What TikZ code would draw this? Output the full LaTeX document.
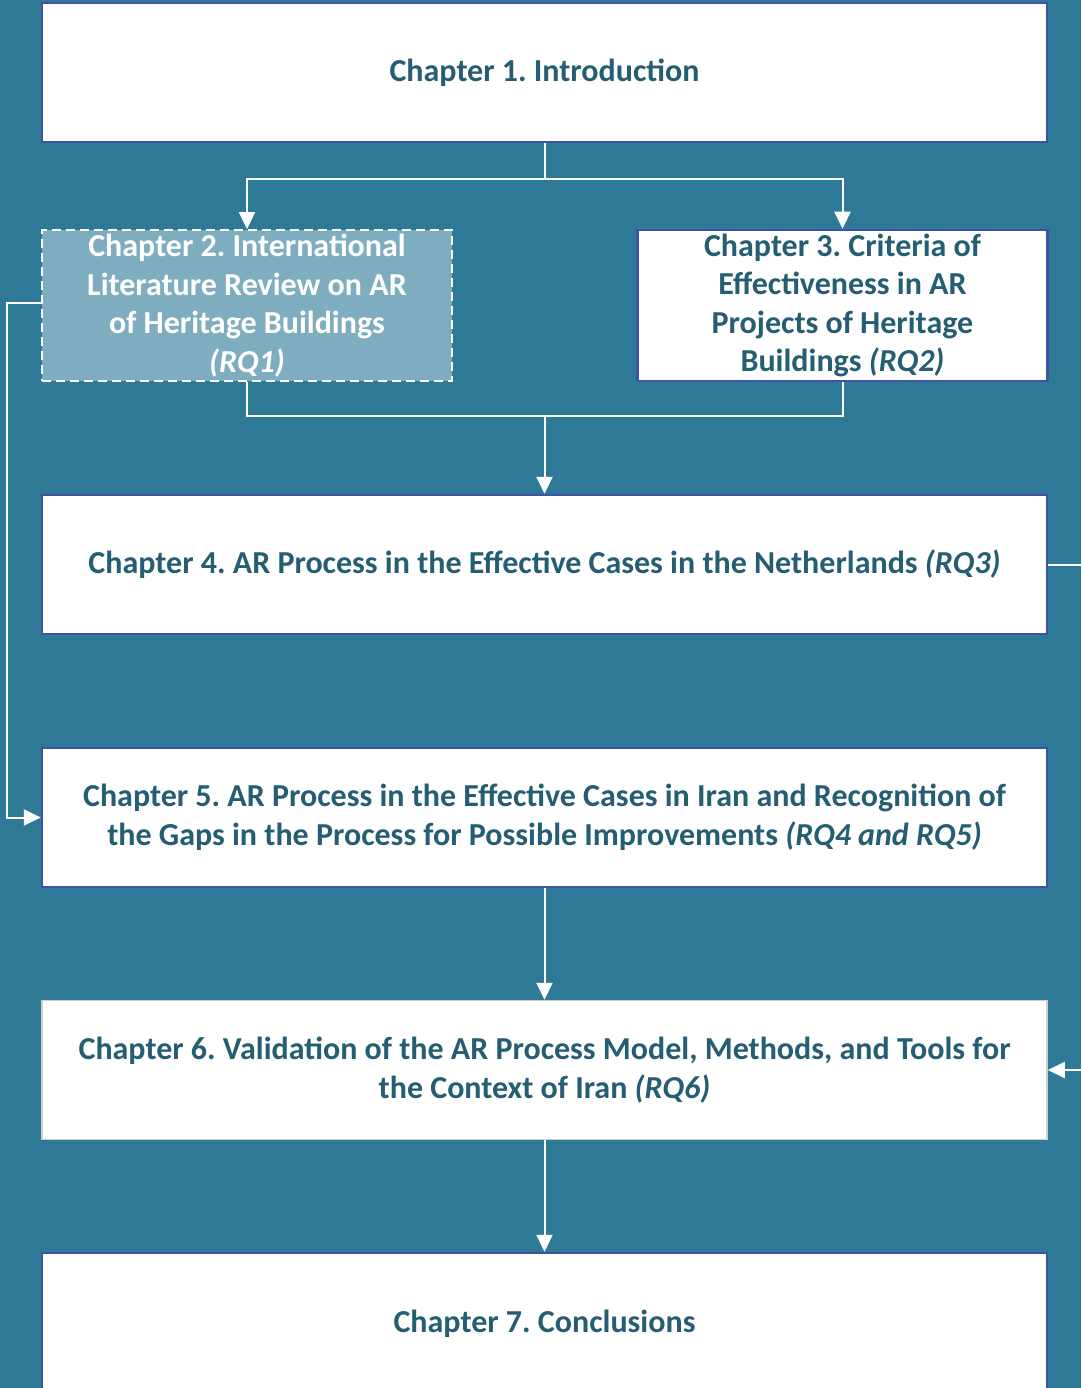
\documentclass[tikz,border=0pt]{standalone}
\usepackage{fontspec}
\setmainfont{Carlito}
\usepackage{xcolor}
\usepackage{tikz}
\usetikzlibrary{arrows.meta,positioning,calc}
\definecolor{bgteal}{RGB}{46,122,150}
\definecolor{textteal}{RGB}{37,94,114}
\definecolor{edgeblue}{RGB}{63,82,165}
\definecolor{softteal}{RGB}{127,173,192}
\definecolor{edgegray}{RGB}{205,205,205}
\frenchspacing

\begin{document}
\begin{tikzpicture}[
    x=1pt, y=-1pt,
    chapter/.style={draw=edgeblue, fill=white, line width=2.5pt, inner sep=0pt, align=center,
        font=\fontsize{32}{38.5}\selectfont\bfseries, text=textteal},
    widebox/.style={chapter, minimum width=1005pt, minimum height=139pt},
    halfbox/.style={chapter, minimum width=410pt, minimum height=151pt},
    flow/.style={draw=white, line width=2pt},
    flowarrow/.style={flow, -{Triangle[length=17pt,width=16pt]}},
]

% === Background ===
\clip (0,0) rectangle (1081,1388);
\fill[bgteal] (0,0) rectangle (1081,1388);

% === Chapters ===
\node[widebox] (ch1) at (544.5, 72.5) {Chapter 1. Introduction};

\node[halfbox, fill=softteal, draw=white, dashed, dash pattern=on 9pt off 5pt, line width=1.8pt, text=white]
    (ch2) at (247, 305.5)
    {Chapter 2. International\\Literature Review on AR\\of Heritage Buildings\\{\itshape (RQ1)}};
\node[halfbox] (ch3) at (842.5, 305.5)
    {Chapter 3. Criteria of\\Effectiveness in AR\\Projects of Heritage\\Buildings {\itshape (RQ2)}};

\node[widebox] (ch4) at (544.5, 564.5)
    {Chapter 4. AR Process in the Effective Cases in the Netherlands {\itshape (RQ3)}};
\node[widebox] (ch5) at (544.5, 817.5)
    {Chapter 5. AR Process in the Effective Cases in Iran and Recognition of\\the Gaps in the Process for Possible Improvements {\itshape (RQ4 and RQ5)}};
\node[widebox, draw=edgegray, line width=1.5pt] (ch6) at (544.5, 1070)
    {Chapter 6. Validation of the AR Process Model, Methods, and Tools for\\the Context of Iran {\itshape (RQ6)}};
\node[widebox, minimum height=142pt] (ch7) at (544.5, 1324) {Chapter 7. Conclusions};

% === Split after chapter 1 ===
\coordinate (split) at (544.5, 179);
\draw[flow] (ch1.south) -- (split);
\draw[flowarrow] (split) -| (ch2.north);
\draw[flowarrow] (split) -| (ch3.north);

% === Join before chapter 4 ===
\coordinate (join) at (544.5, 416);
\draw[flow] (ch2.south) |- (join) -| (ch3.south);
\draw[flowarrow] (join) -- (ch4.north);

% === Side links ===
\coordinate (leftrail) at (7, 303);
\draw[flowarrow] (ch2.west |- leftrail) -- (leftrail) |- (ch5.west);
\coordinate (rightrail) at (1095, 564.5);
\draw[flowarrow] (ch4.east) -- (rightrail) |- (ch6.east);

% === Main line ===
\draw[flowarrow] (ch5.south) -- (ch6.north);
\draw[flowarrow] (ch6.south) -- (ch7.north);

\end{tikzpicture}
\end{document}
